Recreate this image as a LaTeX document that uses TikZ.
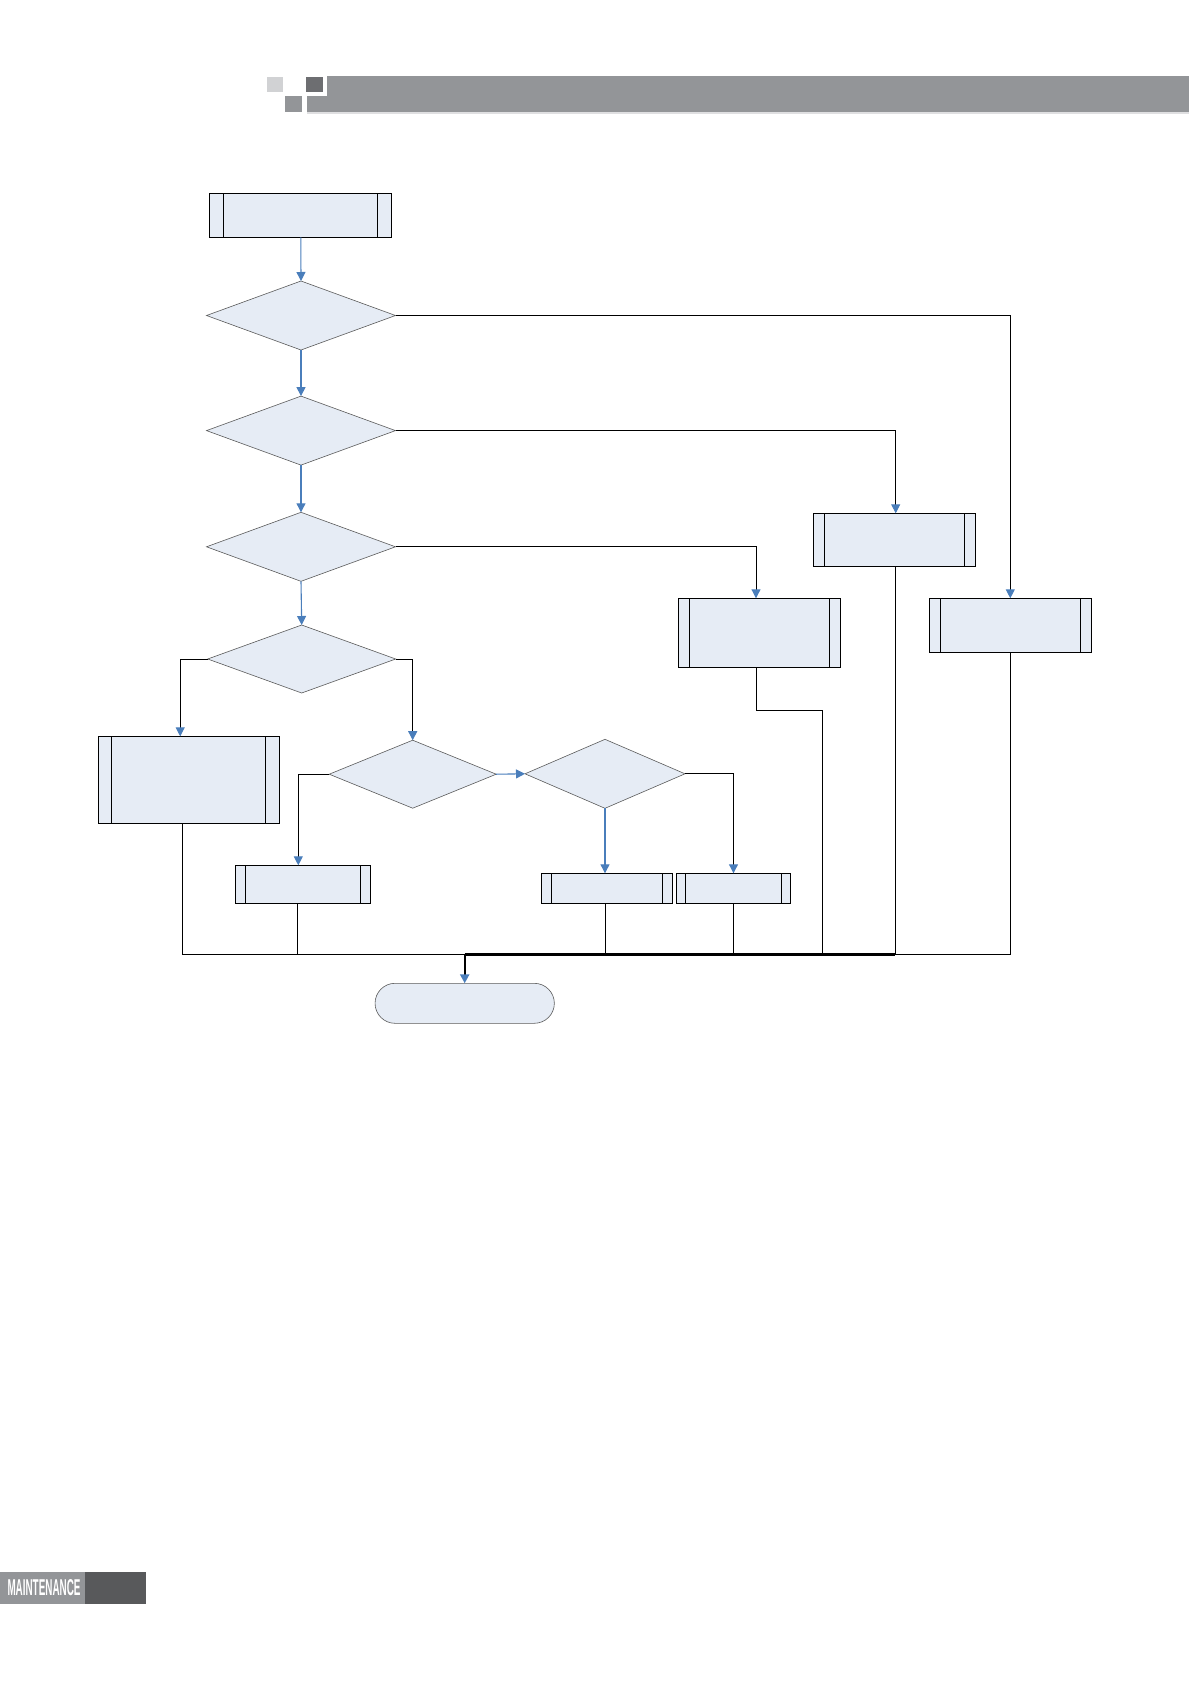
\documentclass[tikz,border=0pt]{standalone}
\usepackage{fontspec}
\setmainfont{Liberation Sans}
\usetikzlibrary{shapes.geometric,arrows.meta}
\definecolor{boxfill}{HTML}{E6ECF5}
\definecolor{flowblue}{HTML}{4A7EBB}
\definecolor{diagray}{HTML}{5A5A5A}
\definecolor{bargray}{HTML}{939598}
\definecolor{darksq}{HTML}{6D6E71}
\definecolor{lightsq}{HTML}{D1D2D4}
\definecolor{footdark}{HTML}{58595B}
\begin{document}
\begin{tikzpicture}[x=1pt,y=-1pt,
  procbox/.style={draw=black, line width=1pt, fill=boxfill, inner sep=0pt, outer sep=0pt,
    path picture={\draw[line width=1pt]
      ([xshift=#1]path picture bounding box.north west) -- ([xshift=#1]path picture bounding box.south west)
      ([xshift=-#1]path picture bounding box.north east) -- ([xshift=-#1]path picture bounding box.south east);}},
  procbox/.default=12pt,
  decision/.style={diamond, draw=diagray, line width=0.6pt, fill=boxfill, inner sep=0pt, outer sep=0pt},
  terminal/.style={rectangle, rounded corners=20pt, draw=diagray, line width=0.6pt, fill=boxfill, inner sep=0pt, outer sep=0pt},
  tip/.style={-{Triangle[width=9pt,length=9pt,color=flowblue]}},
  flow/.style={draw=flowblue, line width=1.1pt, tip},
  branch/.style={draw=black, line width=1pt, tip},
  merge/.style={draw=black, line width=1pt},
  bold merge/.style={draw=black, line width=2.2pt},
]
\useasboundingbox (0,0) rectangle (1190,1684);

% header
\fill[bargray] (306.7,76) rectangle (1189,112.3);
\fill[lightsq!70!white] (306.7,112.3) rectangle (1189,113.6);
\fill[white] (303,73) rectangle (326.7,95.7);
\fill[darksq] (306,76.7) rectangle (322.7,92);
\fill[lightsq] (266.7,76.7) rectangle (282.7,92);
\fill[bargray] (285,95.7) rectangle (302,112);

% footer
\fill[bargray] (0,1571.7) rectangle (85,1604.3);
\fill[footdark] (85,1571.7) rectangle (146,1604.3);
\node[anchor=south west, inner sep=0pt, text=white] (foot) at (7.3,1596)
  {\resizebox{73pt}{16pt}{\bfseries MAINTENANCE}};

% nodes
\node[procbox=14pt, minimum width=181.7pt, minimum height=44pt] (b1) at (300.8,215.3) {};
\node[decision, minimum width=189pt, minimum height=69pt] (d1) at (301,315.5) {};
\node[decision, minimum width=189pt, minimum height=69pt] (d2) at (301,430.6) {};
\node[decision, minimum width=189pt, minimum height=69pt] (d3) at (301,546.8) {};
\node[decision, minimum width=188pt, minimum height=68pt] (d4) at (301.7,659) {};
\node[decision, minimum width=167pt, minimum height=68pt] (d5) at (412.7,774.2) {};
\node[decision, minimum width=160pt, minimum height=69pt] (d6) at (605,773.8) {};

\node[procbox=11pt, minimum width=162pt, minimum height=53pt] (b3) at (894.3,539.8) {};
\node[procbox=11pt, minimum width=162pt, minimum height=69pt] (b4) at (759.3,632.8) {};
\node[procbox=11pt, minimum width=162pt, minimum height=54pt] (b9) at (1010.3,625.3) {};
\node[procbox=13.5pt, minimum width=181pt, minimum height=86.7pt] (b5) at (188.8,779.7) {};
\node[procbox=10pt, minimum width=135.4pt, minimum height=38pt] (b6) at (303,884.3) {};
\node[procbox=10pt, minimum width=131.3pt, minimum height=30pt] (b7) at (606.7,888.3) {};
\node[procbox=9pt, minimum width=114.4pt, minimum height=30pt] (b8) at (733.5,888.3) {};
\node[terminal, minimum width=179.3pt, minimum height=40pt] (term) at (464.7,1003.3) {};

% bus coordinates
\coordinate (junc) at (464.7,954.5);
\coordinate (bus4) at (822.3,954.5);

% main flow
\draw[flow] (b1.south) -- (d1.north);
\draw[flow] (d1.south) -- (d2.north);
\draw[flow] (d2.south) -- (d3.north);
\draw[flow] (d3.south) -- (d4.north);
\draw[flow] (d5.east) -- (d6.west);
\draw[flow] (d6.south) -- (b7.north -| d6.south);

% branches
\draw[branch] (d1.east) -| (b9.north);
\draw[branch] (d2.east) -| ([xshift=1.4pt]b3.north);
\draw[branch] (d3.east) -| ([xshift=-3.3pt]b4.north);
\draw[branch] (d4.west) -| ([xshift=-8.6pt]b5.north);
\draw[branch] (d4.east) -| (d5.north);
\draw[branch] (d5.west) -| ([xshift=-4.7pt]b6.north);
\draw[branch] (d6.east) -| (b8.north);

% merges
\draw[merge] ([xshift=-6.5pt]b5.south) |- (junc);
\draw[merge] ([xshift=-5.3pt]b6.south) -- ([xshift=-5.3pt]b6.south |- junc);
\draw[merge] ([xshift=-1.5pt]b7.south) -- ([xshift=-1.5pt]b7.south |- junc);
\draw[merge] (b8.south) -- (b8.south |- junc);
\draw[merge] ([xshift=-3.3pt]b4.south) -- ++(0,43) -| (bus4);
\draw[merge] ([xshift=1pt]b3.south) -- ([xshift=1pt]b3.south |- junc);
\draw[merge] (b9.south) |- ([xshift=1pt]b3.south |- junc);
\draw[bold merge] (junc) -- ([xshift=1pt]b3.south |- junc);
\draw[bold merge, tip] (junc) -- (term.north);
\end{tikzpicture}
\end{document}
